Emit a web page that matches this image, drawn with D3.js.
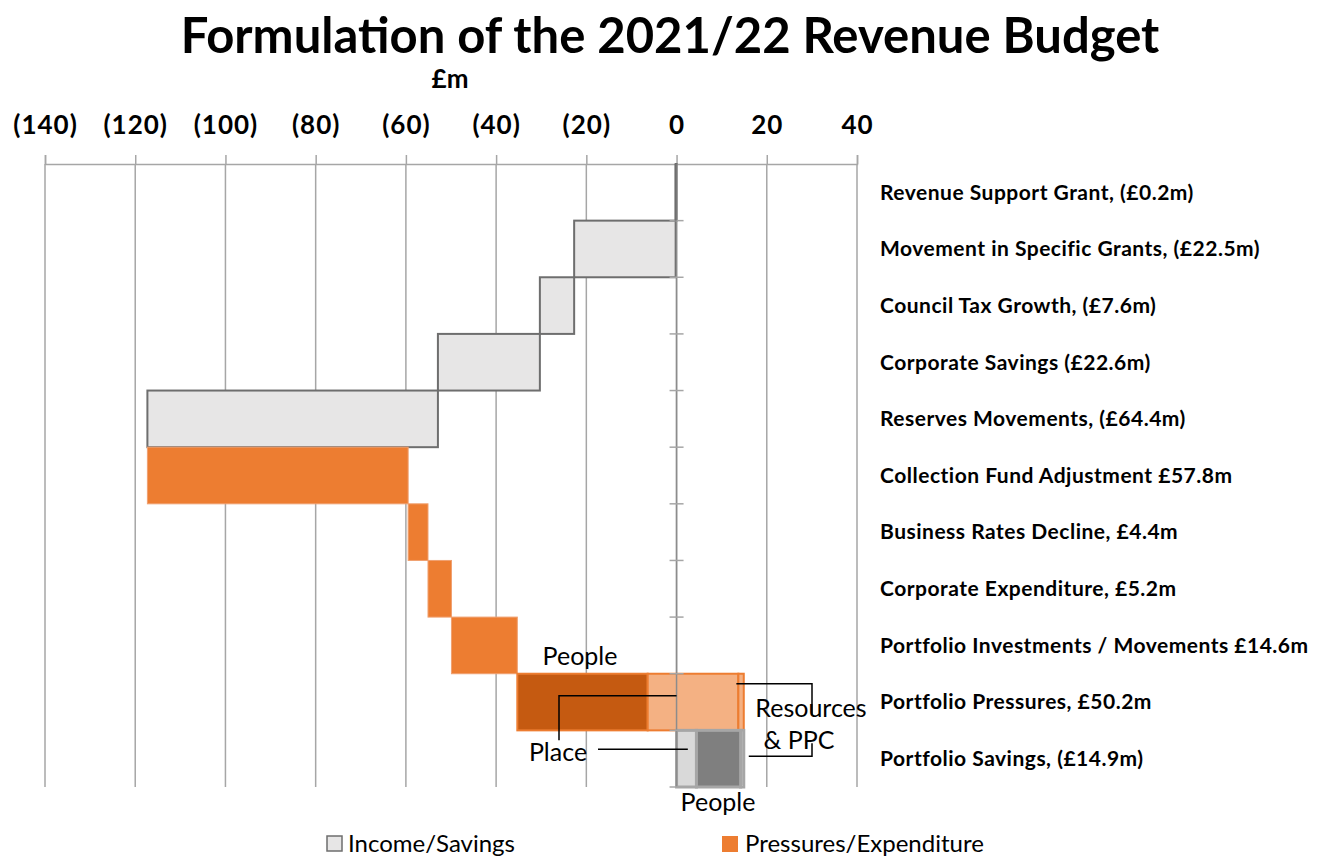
<!DOCTYPE html>
<html>
<head>
<meta charset="utf-8">
<script src="https://cdn.jsdelivr.net/npm/d3@7"></script>
<style>
  body { margin: 0; background: #fff; }
  svg { font-family: Lato, "Open Sans", sans-serif; }
</style>
</head>
<body>
<div id="chart"></div>
<script>
// categorieen en veranderingen (in £m) van de waterval
var categories = [
  "Revenue Support Grant, (£0.2m)",
  "Movement in Specific Grants, (£22.5m)",
  "Council Tax Growth, (£7.6m)",
  "Corporate Savings (£22.6m)",
  "Reserves Movements, (£64.4m)",
  "Collection Fund Adjustment £57.8m",
  "Business Rates Decline, £4.4m",
  "Corporate Expenditure, £5.2m",
  "Portfolio Investments / Movements £14.6m",
  "Portfolio Pressures, £50.2m",
  "Portfolio Savings, (£14.9m)"
];
var changes = [-0.2, -22.5, -7.6, -22.6, -64.4, 57.8, 4.4, 5.2, 14.6, 50.2, -14.9];

// opsplitsing van de portfolio regels
var pressureParts = ["People", "Place", "Resources & PPC"];
var pressureValues = [28.9, 20.1, 1.2];
var savingsParts = ["Resources & PPC", "People", "Place"];
var savingsValues = [-0.7, -9.8, -4.4];

var tickValues = [-140, -120, -100, -80, -60, -40, -20, 0, 20, 40];
var legendLabels = ["Income/Savings", "Pressures/Expenditure"];

var width = 1320, height = 859;
var chartTop = 164, chartBottom = 787;

var svg = d3.select("#chart").append("svg")
    .attr("width", width)
    .attr("height", height);

var x = d3.scaleLinear().domain([-140, 40]).range([45, 857]);
var y = d3.scaleBand().domain(categories).range([chartTop, chartBottom]).padding(0);

// titel
svg.append("text")
    .attr("x", 670).attr("y", 53)
    .attr("text-anchor", "middle")
    .style("font-size", "49px").style("font-weight", "bold")
    .text("Formulation of the 2021/22 Revenue Budget");
svg.append("text")
    .attr("x", 450).attr("y", 88)
    .attr("text-anchor", "middle")
    .style("font-size", "26px").style("font-weight", "bold")
    .text("£m");

// rasterlijnen
svg.append("g").selectAll("line")
    .data(tickValues)
    .enter().append("line")
    .attr("x1", function(d) { return x(d); })
    .attr("x2", function(d) { return x(d); })
    .attr("y1", chartTop).attr("y2", chartBottom)
    .style("stroke", "#a6a6a6").style("stroke-width", 1.5);

// bovenste as
var axis = svg.append("g")
    .attr("transform", "translate(0," + chartTop + ")")
    .call(d3.axisTop(x)
      .tickValues(tickValues)
      .tickSize(9)
      .tickPadding(21)
      .tickFormat(function(d) { return d < 0 ? "(" + (-d) + ")" : d; }));
axis.select(".domain").style("stroke", "#a6a6a6").style("stroke-width", 1.5);
axis.selectAll(".tick line").style("stroke", "#a6a6a6").style("stroke-width", 1.5);
axis.selectAll(".tick text")
    .style("font-size", "26px").style("font-weight", "bold")
    .style("letter-spacing", "1px")
    .style("font-family", "Lato, sans-serif").style("fill", "#000");

// cumulatieve start en eind per regel
var bars = [];
var run = 0;
changes.forEach(function(v, i) {
  bars.push({ cat: categories[i], start: run, end: run + v, value: v });
  run += v;
});

// gewone balken (eerste negen)
svg.append("g").selectAll("rect")
    .data(bars.slice(0, 9))
    .enter().append("rect")
    .attr("x", function(d) { return x(Math.min(d.start, d.end)); })
    .attr("y", function(d) { return y(d.cat); })
    .attr("width", function(d) { return Math.abs(x(d.end) - x(d.start)); })
    .attr("height", y.bandwidth())
    .style("fill", function(d) { return d.value < 0 ? "#e7e6e6" : "#ed7d31"; })
    .style("stroke", function(d) { return d.value < 0 ? "#6e6e6e" : "#f0a070"; })
    .style("stroke-width", function(d) { return d.value < 0 ? 2 : 1; });

// gesegmenteerde balk
function segments(bar, parts, values) {
  var out = [];
  var s = bar.start;
  values.forEach(function(v, i) {
    out.push({ part: parts[i], start: s, end: s + v });
    s += v;
  });
  return out;
}

var pressSeg = segments(bars[9], pressureParts, pressureValues);
var pressColor = { "People": "#c55a11", "Place": "#f4b183", "Resources & PPC": "#f4b183" };
svg.append("g").selectAll("rect")
    .data(pressSeg)
    .enter().append("rect")
    .attr("x", function(d) { return x(Math.min(d.start, d.end)); })
    .attr("y", y(bars[9].cat))
    .attr("width", function(d) { return Math.abs(x(d.end) - x(d.start)); })
    .attr("height", y.bandwidth())
    .style("fill", function(d) { return pressColor[d.part]; })
    .style("stroke", "#ed7d31").style("stroke-width", 2);

var saveSeg = segments(bars[10], savingsParts, savingsValues);
var saveColor = { "People": "#7f7f7f", "Place": "#d9d9d9", "Resources & PPC": "#d9d9d9" };
svg.append("g").selectAll("rect")
    .data(saveSeg)
    .enter().append("rect")
    .attr("x", function(d) { return x(Math.min(d.start, d.end)); })
    .attr("y", y(bars[10].cat))
    .attr("width", function(d) { return Math.abs(x(d.end) - x(d.start)); })
    .attr("height", y.bandwidth())
    .style("fill", function(d) { return saveColor[d.part]; })
    .style("stroke", "#a6a6a6").style("stroke-width", 3);

// nul-as met streepjes op de grenzen
var x0 = x(0);
svg.append("line")
    .attr("x1", x0).attr("x2", x0).attr("y1", chartTop).attr("y2", chartBottom)
    .style("stroke", "#8c8c8c").style("stroke-width", 1.5);
svg.append("g").selectAll("line")
    .data(categories)
    .enter().append("line")
    .attr("x1", x0 - 7).attr("x2", x0 + 7)
    .attr("y1", function(d) { return y(d) + y.bandwidth(); })
    .attr("y2", function(d) { return y(d) + y.bandwidth(); })
    .style("stroke", "#a6a6a6").style("stroke-width", 1.5);
// eerste regel (-0.2) als dikke lijn
svg.append("line")
    .attr("x1", x(bars[0].end)).attr("x2", x(bars[0].end))
    .attr("y1", y(bars[0].cat)).attr("y2", y(bars[0].cat) + y.bandwidth())
    .style("stroke", "#6e6e6e").style("stroke-width", 2);

// categorie labels rechts
svg.append("g").selectAll("text")
    .data(categories)
    .enter().append("text")
    .attr("x", 880)
    .attr("y", function(d) { return y(d) + y.bandwidth() / 2; })
    .attr("dy", "0.35em")
    .style("font-size", "21px").style("font-weight", "bold")
    .style("letter-spacing", "0.5px")
    .text(function(d) { return d; });

// annotaties
var yP = y(bars[9].cat), yS = y(bars[10].cat);
var ann = svg.append("g").style("font-size", "25px");
ann.append("text").attr("x", 580).attr("y", yP - 9).attr("text-anchor", "middle").text("People");
ann.append("text").attr("x", 558).attr("y", yS + 31).attr("text-anchor", "middle").text("Place");
ann.append("text").attr("x", 811).attr("y", yP + 43).attr("text-anchor", "middle").text("Resources");
ann.append("text").attr("x", 799).attr("y", yP + 75).attr("text-anchor", "middle").text("& PPC");
ann.append("text").attr("x", 718).attr("y", chartBottom + 24).attr("text-anchor", "middle").text("People");

var leader = [
  [[559, yS + 10], [559, yP + 22], [x0, yP + 22]],
  [[598, yS + 19], [x(2.5), yS + 19]],
  [[x(pressSeg[2].start) - 2, yP + 10], [812, yP + 10], [812, yP + 41]],
  [[812, yS + 13], [812, yS + 26], [x(saveSeg[0].start) + 5, yS + 26]]
];
svg.append("g").selectAll("path")
    .data(leader)
    .enter().append("path")
    .attr("d", function(d) { return d3.line()(d); })
    .style("fill", "none").style("stroke", "#000").style("stroke-width", 1.5);

// legenda
var legend = svg.append("g");
legend.append("rect").attr("x", 327).attr("y", 836).attr("width", 15).attr("height", 15)
    .style("fill", "#e7e6e6").style("stroke", "#6e6e6e").style("stroke-width", 1.5);
legend.append("text").attr("x", 348).attr("y", 852).style("font-size", "24px").text(legendLabels[0]);
legend.append("rect").attr("x", 722).attr("y", 836).attr("width", 16).attr("height", 16)
    .style("fill", "#ed7d31");
legend.append("text").attr("x", 745).attr("y", 852).style("font-size", "24px").text(legendLabels[1]);
</script>
</body>
</html>
